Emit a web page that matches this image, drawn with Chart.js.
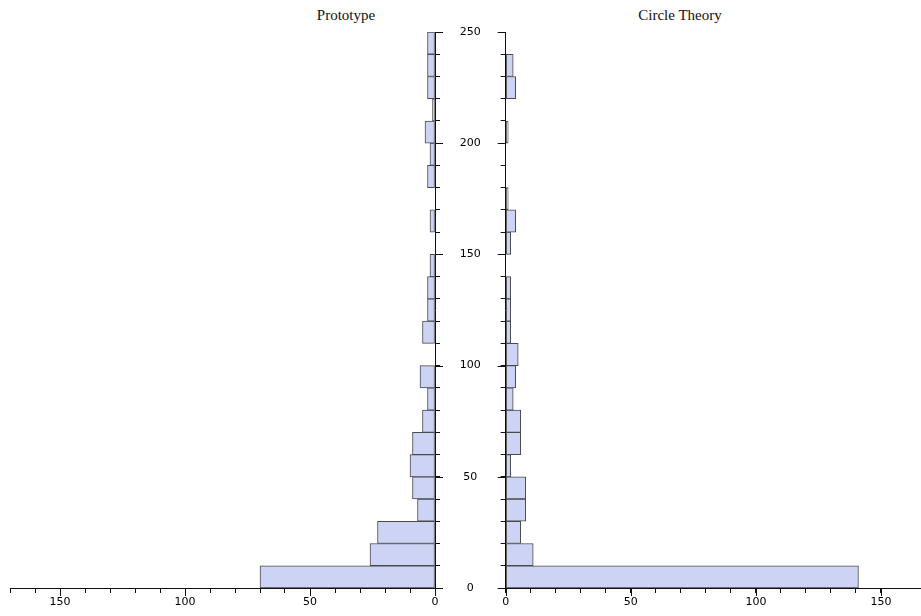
<!DOCTYPE html>
<html>
<head>
<meta charset="utf-8">
<script src="https://cdn.jsdelivr.net/npm/chart.js@4.4.0/dist/chart.umd.min.js"></script>
<style>
    body { margin: 0; background: #fff; width: 921px; height: 616px; position: relative; overflow: hidden; }
    .box { position: absolute; top: 0; height: 616px; }
    #leftBox { left: 0; width: 455px; }
    #rightBox { left: 455px; width: 466px; }
    .title { position: absolute; top: 7px; font: 15px 'Liberation Serif', serif; color: #111; transform: translateX(-50%); white-space: nowrap; }
</style>
</head>
<body>
<div class="title" style="left:346px">Prototype</div>
<div class="title" style="left:680px">Circle Theory</div>
<div class="box" id="leftBox"><canvas id="prototypeChart"></canvas></div>
<div class="box" id="rightBox"><canvas id="circleChart"></canvas></div>
<script>
// histogram bins, width 10, lower edges
const binStarts = [0, 10, 20, 30, 40, 50, 60, 70, 80, 90, 100, 110, 120, 130, 140, 150, 160, 170, 180, 190, 200, 210, 220, 230, 240];
const binWidth = 10;
const prototypeCounts = [70, 26, 23, 7, 9, 10, 9, 5, 3, 6, 0, 5, 3, 3, 2, 0, 2, 0, 3, 2, 4, 1, 3, 3, 3];
const circleCounts = [141, 11, 6, 8, 8, 2, 6, 6, 3, 4, 5, 2, 2, 2, 0, 2, 4, 1, 0, 0, 1, 0, 4, 3, 0];

const barFill = '#cdd3f5';
const barEdge = '#4a4a4a';
const axisColor = '#111111';
const tickFont = { family: 'DejaVu Sans', size: 11 };

function toPoints(counts) {
    return binStarts.map(function(start, i) {
        return { x: counts[i] === 0 ? null : counts[i], y: start + binWidth / 2 };
    });
}

function labelEvery50(value) {
    return value % 50 === 0 ? value : '';
}

function tickMarkColor(ctx) {
    return ctx.tick && ctx.tick.value % 10 === 0 ? axisColor : 'transparent';
}

// major ticks (every 50) are a bit longer than the minor ones
const longMajorTicks = {
    id: 'longMajorTicks',
    afterDraw: function(chart) {
        const c = chart.ctx;
        c.save();
        c.strokeStyle = axisColor;
        c.lineWidth = 1;
        Object.values(chart.scales).forEach(function(scale) {
            scale.ticks.forEach(function(t) {
                if (t.value % 50 !== 0) return;
                const p = Math.round(scale.getPixelForValue(t.value)) + 0.5;
                c.beginPath();
                if (scale.axis === 'x') {
                    c.moveTo(p, scale.top);
                    c.lineTo(p, scale.top + 8);
                } else if (scale.position === 'right') {
                    c.moveTo(scale.left, p);
                    c.lineTo(scale.left + 8, p);
                } else {
                    c.moveTo(scale.right, p);
                    c.lineTo(scale.right - 8, p);
                }
                c.stroke();
            });
        });
        c.restore();
    }
};

function makeChart(id, counts, side) {
    const ctx = document.getElementById(id);
    if (!ctx) return;
    const isLeft = side === 'left';

    new Chart(ctx, {
        type: 'bar',
        data: {
            datasets: [{
                data: toPoints(counts),
                backgroundColor: barFill,
                borderColor: barEdge,
                borderWidth: 1,
                borderSkipped: false,
                categoryPercentage: 1,
                barPercentage: 1
            }]
        },
        options: {
            indexAxis: 'y',
            responsive: true,
            maintainAspectRatio: false,
            animation: false,
            layout: {
                padding: { top: 32, left: isLeft ? 10 : 0, right: 0, bottom: 0 }
            },
            plugins: {
                legend: { display: false },
                tooltip: { enabled: false }
            },
            scales: {
                x: {
                    type: 'linear',
                    reverse: isLeft,
                    min: 0,
                    max: isLeft ? 170 : 166,
                    afterFit: function(scale) {
                        scale.height = 28;
                        scale.paddingLeft = 0;
                        scale.paddingRight = 0;
                    },
                    grid: {
                        drawOnChartArea: false,
                        tickLength: 5,
                        tickColor: tickMarkColor
                    },
                    border: { color: axisColor, width: 1 },
                    ticks: {
                        stepSize: 10,
                        autoSkip: false,
                        maxRotation: 0,
                        padding: 3,
                        color: '#000',
                        font: tickFont,
                        callback: labelEvery50
                    }
                },
                y: {
                    type: 'linear',
                    position: isLeft ? 'right' : 'left',
                    min: 0,
                    max: 250,
                    offset: false,
                    z: 1,
                    afterFit: function(scale) {
                        scale.width = isLeft ? 20 : 50.7;
                        scale.paddingTop = 0;
                        scale.paddingBottom = 0;
                    },
                    grid: {
                        offset: false,
                        drawOnChartArea: false,
                        tickLength: 5,
                        tickColor: tickMarkColor
                    },
                    border: { color: axisColor, width: 1 },
                    ticks: {
                        display: !isLeft,
                        stepSize: 10,
                        autoSkip: false,
                        crossAlign: 'center',
                        padding: 20,
                        color: '#000',
                        font: tickFont,
                        callback: labelEvery50
                    }
                }
            }
        },
        plugins: [longMajorTicks]
    });
}

document.addEventListener('DOMContentLoaded', function() {
    makeChart('prototypeChart', prototypeCounts, 'left');
    makeChart('circleChart', circleCounts, 'right');
});
</script>
</body>
</html>
